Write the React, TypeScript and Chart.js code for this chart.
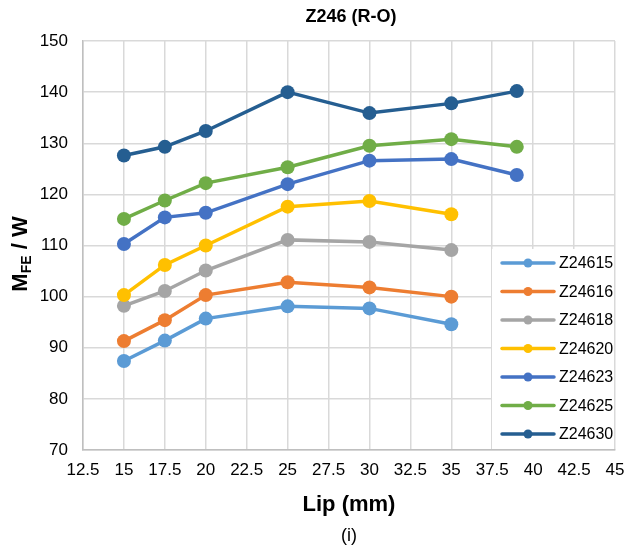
import React, { useEffect, useRef } from 'react';
import { Chart, registerables } from 'chart.js';

Chart.register(...registerables);

const TITLE = 'Z246 (R-O)';
const X_TITLE = 'Lip (mm)';
const CAPTION = '(i)';

const lipValues = [15, 17.5, 20, 25, 30, 35, 39];
const seriesNames = ['Z24615', 'Z24616', 'Z24618', 'Z24620', 'Z24623', 'Z24625', 'Z24630'];
const seriesColors = ['#5B9BD5', '#ED7D31', '#A5A5A5', '#FFC000', '#4472C4', '#70AD47', '#255E91'];

const z24615 = [87.4, 91.4, 95.7, 98.1, 97.7, 94.6, null];
const z24616 = [91.3, 95.4, 100.3, 102.8, 101.8, 100.0, null];
const z24618 = [98.2, 101.1, 105.1, 111.1, 110.7, 109.1, null];
const z24620 = [100.3, 106.2, 110.0, 117.6, 118.7, 116.1, null];
const z24623 = [110.3, 115.5, 116.4, 122.0, 126.6, 126.9, 123.8];
const z24625 = [115.2, 118.8, 122.2, 125.3, 129.5, 130.8, 129.3];
const z24630 = [127.6, 129.3, 132.4, 140.0, 135.9, 137.8, 140.2];

const seriesValues = [z24615, z24616, z24618, z24620, z24623, z24625, z24630];

const xTicks = [12.5, 15, 17.5, 20, 22.5, 25, 27.5, 30, 32.5, 35, 37.5, 40, 42.5, 45];
const yTicks = [70, 80, 90, 100, 110, 120, 130, 140, 150];

const FONT = '"Liberation Sans", Arial, sans-serif';

const decorPlugin = {
  id: 'decor',
  afterDraw(chart: any) {
    const ctx = chart.ctx as CanvasRenderingContext2D;
    const ca = chart.chartArea;
    const cx = (ca.left + ca.right) / 2;
    ctx.save();
    ctx.fillStyle = '#000';
    ctx.textAlign = 'center';
    ctx.textBaseline = 'middle';
    // title
    ctx.font = `bold 18px ${FONT}`;
    ctx.fillText(TITLE, cx + 2, 17);
    // x title
    ctx.font = `bold 22px ${FONT}`;
    ctx.fillText(X_TITLE, cx, 505);
    ctx.font = `18px ${FONT}`;
    ctx.fillText(CAPTION, cx, 536);

    // y title with subscript
    ctx.save();
    ctx.translate(19, 254);
    ctx.rotate(-Math.PI / 2);
    const big = `bold 22px ${FONT}`;
    const small = `bold 14px ${FONT}`;
    ctx.font = big;
    const wM = ctx.measureText('M').width;
    const wRest = ctx.measureText(' / W').width;
    ctx.font = small;
    const wSub = ctx.measureText('FE').width;
    const total = wM + wSub + wRest;
    let x = -total / 2;
    ctx.textAlign = 'left';
    ctx.textBaseline = 'alphabetic';
    ctx.font = big;
    ctx.fillText('M', x, 8);
    x += wM;
    ctx.font = small;
    ctx.fillText('FE', x, 12);
    x += wSub;
    ctx.font = big;
    ctx.fillText(' / W', x, 8);
    ctx.restore();

    // legend
    const lx = 492, ly = 249, lw = ca.right - 1 - lx, lh = ca.bottom - 1 - ly;
    ctx.fillStyle = '#ffffff';
    ctx.fillRect(lx, ly, lw, lh);
    ctx.font = `16px ${FONT}`;
    ctx.textAlign = 'left';
    ctx.textBaseline = 'middle';
    seriesNames.forEach((name, i) => {
      const y = 263 + i * 28.5;
      ctx.strokeStyle = seriesColors[i];
      ctx.lineWidth = 3.5;
      ctx.lineCap = 'round';
      ctx.beginPath();
      ctx.moveTo(502, y);
      ctx.lineTo(554, y);
      ctx.stroke();
      ctx.fillStyle = seriesColors[i];
      ctx.beginPath();
      ctx.arc(528, y, 4.5, 0, Math.PI * 2);
      ctx.fill();
      ctx.fillStyle = '#000';
      ctx.fillText(name, 559, y + 1);
    });
    ctx.restore();
  },
};

export default function App() {
  const ref = useRef<HTMLCanvasElement | null>(null);
  useEffect(() => {
    document.body.style.margin = '0';
    const canvas = ref.current;
    if (!canvas) return;
    const datasets = seriesNames.map((name, i) => ({
      label: name,
      data: lipValues
        .map((x, j) => ({ x, y: seriesValues[i][j] }))
        .filter((p) => p.y !== null),
      borderColor: seriesColors[i],
      backgroundColor: seriesColors[i],
      borderWidth: 3.5,
      pointRadius: 7,
      pointBorderWidth: 0,
      pointBackgroundColor: seriesColors[i],
      tension: 0,
      order: seriesNames.length - i,
    }));
    const chart = new Chart(canvas, {
      type: 'line',
      data: { datasets },
      plugins: [decorPlugin],
      options: {
        animation: false,
        responsive: false,
        maintainAspectRatio: false,
        layout: { padding: { top: 41, right: 12, left: 0, bottom: 0 } },
        plugins: {
          legend: { display: false },
          tooltip: { enabled: false },
          title: { display: false },
        },
        scales: {
          x: {
            type: 'linear',
            min: 12.5,
            max: 45,
            afterBuildTicks: (scale: any) => {
              scale.ticks = xTicks.map((v) => ({ value: v }));
            },
            afterFit: (scale: any) => {
              scale.height = 103;
              scale.paddingRight = 0;
              scale.paddingLeft = 0;
            },
            ticks: {
              callback: (v: any) => String(v),
              font: { family: FONT, size: 17 },
              color: '#000',
              padding: 10,
              maxRotation: 0,
              autoSkip: false,
            },
            grid: { color: '#D9D9D9', lineWidth: 1.5, drawTicks: false },
            border: { color: '#BFBFBF', width: 1.5 },
          },
          y: {
            type: 'linear',
            min: 70,
            max: 150,
            afterBuildTicks: (scale: any) => {
              scale.ticks = yTicks.map((v) => ({ value: v }));
            },
            afterFit: (scale: any) => {
              scale.width = 83;
              scale.paddingTop = 0;
              scale.paddingBottom = 0;
            },
            ticks: {
              callback: (v: any) => String(v),
              font: { family: FONT, size: 17 },
              color: '#000',
              padding: 15,
            },
            grid: { color: '#D9D9D9', lineWidth: 1.5, drawTicks: false },
            border: { color: '#BFBFBF', width: 1.5 },
          },
        },
      },
    });
    return () => chart.destroy();
  }, []);
  return (
    <div style={{ width: 627, height: 553 }}>
      <canvas ref={ref} width={627} height={553} style={{ display: 'block' }} />
    </div>
  );
}
